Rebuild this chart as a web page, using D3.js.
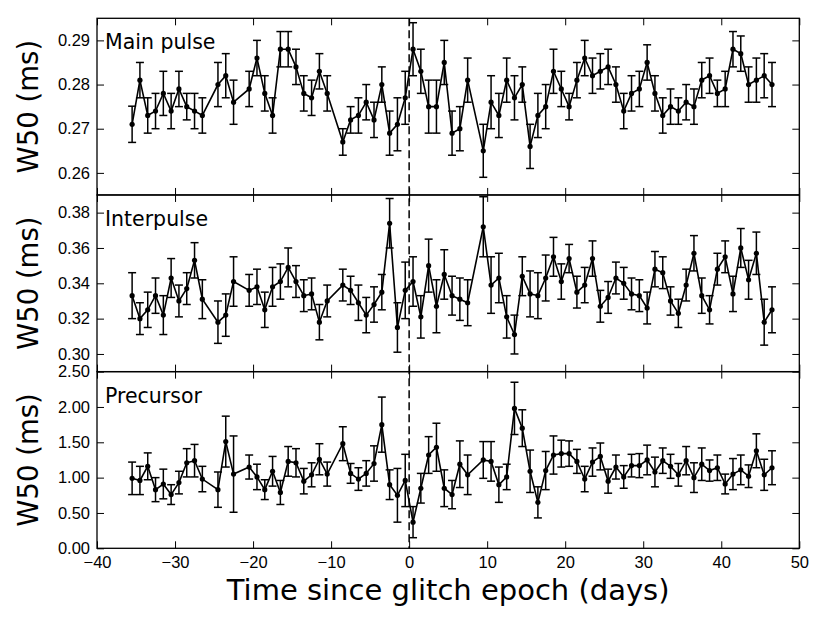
<!DOCTYPE html>
<html>
<head>
<meta charset="utf-8">
<script src="https://cdn.jsdelivr.net/npm/d3@7"></script>
<style>
  body { margin: 0; background: #fff; }
  svg { font-family: "DejaVu Sans", sans-serif; }
  .tick line { stroke: #000; stroke-width: 1; }
  .tick text { font-size: 16.5px; fill: #000; }
</style>
</head>
<body>
<div id="chart"></div>
<script>
// days since glitch, shared by all three panels
const days = [-35.5, -34.5, -33.5, -32.5, -31.5, -30.5, -29.5, -28.5, -27.5, -26.5,
  -24.5, -23.5, -22.5,
  -20.5, -19.5, -18.5, -17.5, -16.5, -15.5, -14.5, -13.5, -12.5, -11.5, -10.5,
  -8.5, -7.5, -6.5, -5.5, -4.5, -3.5, -2.5, -1.5, -0.5, 0.5, 1.5, 2.5, 3.5, 4.5, 5.5, 6.5, 7.5,
  9.5, 10.5, 11.5, 12.5, 13.5, 14.5, 15.5, 16.5, 17.5, 18.5, 19.5, 20.5, 21.5, 22.5, 23.5, 24.5,
  25.5, 26.5, 27.5, 28.5, 29.5, 30.5, 31.5, 32.5, 33.5, 34.5, 35.5, 36.5, 37.5, 38.5, 39.5, 40.5,
  41.5, 42.5, 43.5, 44.5, 45.5, 46.5];

const mainW50 = [.271, .281, .273, .274, .278, .274, .279, .275, .274, .273,
  .280, .282, .276,
  .279, .286, .278, .273, .288, .288, .284, .278, .277, .283, .278,
  .267, .272, .273, .276, .272, .280, .269, .271, .277, .288, .283, .275, .275, .285, .269, .270, .281,
  .265, .276, .273, .281, .277, .280, .266, .273, .275, .283, .279, .275, .281, .286, .282, .283,
  .284, .280, .274, .278, .279, .285, .278, .273, .275, .274, .276, .275, .281, .282, .278, .279,
  .288, .287, .280, .281, .282, .280];
const mainErr = [.0041, .004, .004, .004, .005, .004, .004, .003, .004, .004,
  .005, .005, .005,
  .004, .004, .004, .004, .004, .004, .004, .004, .004, .004, .004,
  .003, .003, .004, .004, .004, .004, .005, .006, .006, .006, .005, .006, .006, .005, .005, .005, .005,
  .006, .006, .005, .005, .005, .004, .005, .005, .005, .005, .004, .003, .004, .004, .004, .004,
  .004, .004, .004, .004, .004, .004, .004, .004, .004, .003, .004, .004, .004, .004, .003, .004,
  .004, .004, .004, .005, .005, .005];

const interW50 = [.333, .320, .325, .333, .322, .343, .330, .337, .353, .331,
  .318, .322, .341,
  .336, .338, .325, .338, .341, .349, .341, .333, .334, .318, .330,
  .339, .336, .329, .322, .328, .335, .374, .315, .336, .341, .321, .350, .327, .345, .333, .331, .329,
  .372, .339, .343, .321, .311, .344, .334, .333, .343, .355, .341, .354, .335, .339, .354, .327,
  .332, .343, .340, .334, .333, .326, .348, .346, .330, .323, .339, .357, .333, .325, .348, .355,
  .334, .360, .342, .357, .318, .325];
const interErr = [.013, .009, .010, .010, .011, .011, .009, .009, .010, .011,
  .012, .012, .014,
  .009, .010, .010, .011, .010, .011, .009, .009, .009, .010, .009,
  .009, .008, .010, .010, .010, .010, .014, .014, .016, .014, .012, .015, .015, .014, .011, .012, .013,
  .017, .016, .014, .012, .011, .011, .013, .013, .013, .011, .010, .008, .009, .010, .010, .009,
  .009, .009, .009, .009, .009, .009, .010, .009, .008, .008, .009, .010, .010, .008, .009, .009,
  .010, .011, .011, .012, .013, .013];

const precW50 = [0.99, 0.96, 1.16, 0.83, 0.91, 0.76, 0.93, 1.21, 1.24, 0.98,
  0.83, 1.51, 1.05,
  1.15, 1.01, 0.83, 1.09, 0.79, 1.23, 1.21, 0.95, 1.04, 1.26, 1.05,
  1.48, 1.06, 0.98, 1.06, 1.20, 1.75, 0.90, 0.75, 0.96, 0.37, 0.85, 1.32, 1.43, 0.85, 0.76, 1.19, 1.04,
  1.25, 1.23, 0.90, 1.01, 1.98, 1.70, 1.09, 0.65, 1.10, 1.32, 1.34, 1.34, 1.23, 0.98, 1.22, 1.30,
  0.95, 1.15, 1.01, 1.17, 1.17, 1.25, 1.08, 1.24, 1.16, 1.04, 1.24, 1.00, 1.19, 1.10, 1.14, 0.91,
  1.05, 1.11, 1.02, 1.38, 1.04, 1.14];
const precErr = [.23, .20, .19, .17, .21, .14, .16, .20, .23, .18,
  .25, .36, .54,
  .17, .18, .14, .21, .17, .21, .20, .18, .17, .22, .17,
  .24, .14, .16, .18, .25, .39, .21, .38, .37, .22, .21, .26, .34, .26, .20, .33, .28,
  .26, .28, .25, .18, .37, .26, .30, .22, .27, .27, .19, .18, .17, .18, .20, .19,
  .17, .17, .16, .16, .17, .21, .21, .18, .17, .16, .20, .21, .23, .15, .18, .14,
  .22, .21, .16, .24, .22, .24];

const panelNames = ["Main pulse", "Interpulse", "Precursor"];
const panelDomains = [[0.255, 0.295], [0.29, 0.39], [0, 2.5]];
const panelTicks = [[0.26, 0.27, 0.28, 0.29], [0.30, 0.32, 0.34, 0.36, 0.38], [0, 0.5, 1.0, 1.5, 2.0, 2.5]];
const xTicks = [-40, -30, -20, -10, 0, 10, 20, 30, 40, 50];

const panels = [
  { name: panelNames[0], vals: mainW50, errs: mainErr, domain: panelDomains[0], ticks: panelTicks[0] },
  { name: panelNames[1], vals: interW50, errs: interErr, domain: panelDomains[1], ticks: panelTicks[1] },
  { name: panelNames[2], vals: precW50, errs: precErr, domain: panelDomains[2], ticks: panelTicks[2] }
];

const W = 830, H = 623;
const margin = { top: 18.3, right: 30.7, bottom: 74.7, left: 97 };
const width = W - margin.left - margin.right;
const panelH = (H - margin.top - margin.bottom) / 3;

const svg = d3.select("#chart").append("svg")
  .attr("width", W)
  .attr("height", H);

const g = svg.append("g")
  .attr("transform", `translate(${margin.left},${margin.top})`);

const x = d3.scaleLinear().domain([-40, 50]).range([0, width]);

panels.forEach((p, i) => {
  const pg = g.append("g").attr("transform", `translate(0,${i * panelH})`);
  const y = d3.scaleLinear().domain(p.domain).range([panelH, 0]);
  const pts = days.map((d, k) => ({ d: d, v: p.vals[k], e: p.errs[k] }));

  // ticks on all four sides, pointing inward
  pg.append("g")
    .call(d3.axisLeft(y).tickValues(p.ticks).tickSize(-7).tickPadding(7).tickFormat(d3.format(".2f")))
    .call(a => a.select(".domain").remove());
  pg.append("g")
    .attr("transform", `translate(${width},0)`)
    .call(d3.axisRight(y).tickValues(p.ticks).tickSize(-7).tickFormat(""))
    .call(a => a.select(".domain").remove());
  pg.append("g")
    .call(d3.axisTop(x).tickValues(xTicks).tickSize(-7).tickFormat(""))
    .call(a => a.select(".domain").remove());
  const bx = pg.append("g")
    .attr("transform", `translate(0,${panelH})`)
    .call(d3.axisBottom(x).tickValues(xTicks).tickSize(-7).tickPadding(8))
    .call(a => a.select(".domain").remove());
  if (i < 2) bx.selectAll("text").remove();

  // error bars
  const eb = pg.append("g").attr("stroke", "#000").attr("stroke-width", 1.5);
  eb.selectAll(".ebar").data(pts).enter().append("line")
    .attr("x1", d => x(d.d)).attr("x2", d => x(d.d))
    .attr("y1", d => y(d.v - d.e)).attr("y2", d => y(d.v + d.e));
  eb.selectAll(".capt").data(pts).enter().append("line")
    .attr("x1", d => x(d.d) - 4).attr("x2", d => x(d.d) + 4)
    .attr("y1", d => y(d.v + d.e)).attr("y2", d => y(d.v + d.e));
  eb.selectAll(".capb").data(pts).enter().append("line")
    .attr("x1", d => x(d.d) - 4).attr("x2", d => x(d.d) + 4)
    .attr("y1", d => y(d.v - d.e)).attr("y2", d => y(d.v - d.e));

  // connecting line + markers
  pg.append("path")
    .datum(pts)
    .attr("fill", "none")
    .attr("stroke", "#000")
    .attr("stroke-width", 1.6)
    .attr("d", d3.line().x(d => x(d.d)).y(d => y(d.v)));
  pg.selectAll(".dot").data(pts).enter().append("circle")
    .attr("cx", d => x(d.d)).attr("cy", d => y(d.v))
    .attr("r", 2.6).attr("fill", "#000");

  // panel frame
  pg.append("rect")
    .attr("width", width).attr("height", panelH)
    .attr("fill", "none").attr("stroke", "#000").attr("stroke-width", 1.3);

  pg.append("text")
    .attr("x", 8).attr("y", 31)
    .attr("font-size", "20.5px")
    .text(p.name);

  svg.append("text")
    .attr("text-anchor", "middle")
    .attr("font-size", "27.5px")
    .attr("transform", `translate(38,${margin.top + i * panelH + panelH / 2}) rotate(-90)`)
    .text("W50 (ms)");
});

// glitch epoch
g.append("line")
  .attr("x1", x(0)).attr("x2", x(0))
  .attr("y1", 0).attr("y2", 3 * panelH)
  .attr("stroke", "#000").attr("stroke-width", 1.5)
  .attr("stroke-dasharray", "8,4");

svg.append("text")
  .attr("text-anchor", "middle")
  .attr("font-size", "29px")
  .attr("x", margin.left + width / 2)
  .attr("y", 600)
  .text("Time since glitch epoch (days)");
</script>
</body>
</html>
